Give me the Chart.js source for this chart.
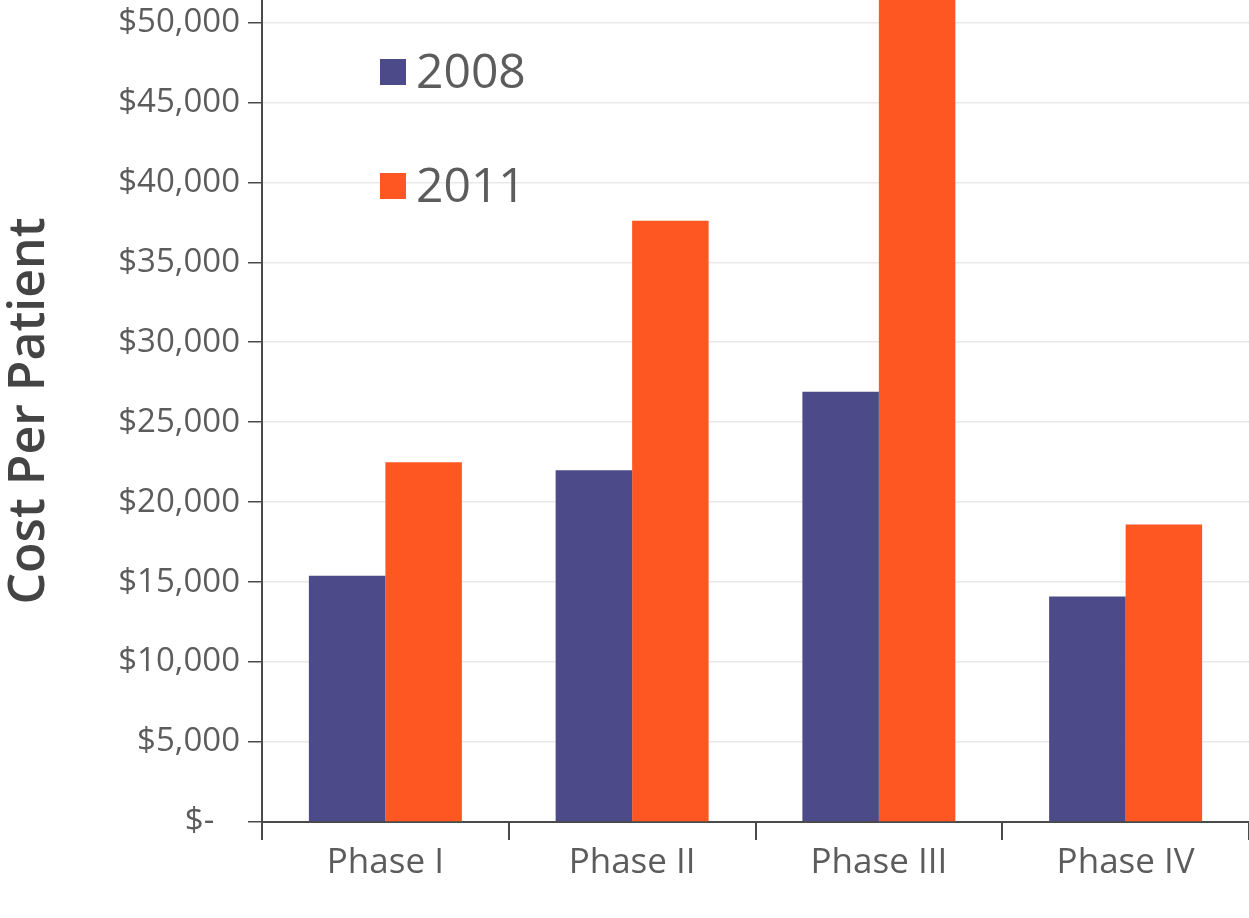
<!DOCTYPE html>
<html>
<head>
<meta charset="utf-8">
<title>Cost Per Patient by Phase</title>
<script src="https://cdn.jsdelivr.net/npm/chart.js@4/dist/chart.umd.min.js"></script>
<style>
    html, body { margin: 0; padding: 0; background: #ffffff; }
    #wrap { width: 1249px; height: 918px; position: relative; }
</style>
</head>
<body>
<div id="wrap"><canvas id="costChart"></canvas></div>
<script>
const phases = ['Phase I', 'Phase II', 'Phase III', 'Phase IV'];
const cost2008 = [15400, 22000, 26900, 14100];
const cost2011 = [22500, 37600, 53000, 18600];
const seriesNames = ['2008', '2011'];
const yTicks = [0, 5000, 10000, 15000, 20000, 25000, 30000, 35000, 40000, 45000, 50000];

const textGrey = '#5c5c5c';
const axisGrey = '#4a4a4a';

// legend drawn inside the plot, stacked vertically near the y axis
const insetLegend = {
    id: 'insetLegend',
    afterDraw(chart) {
        const ctx = chart.ctx;
        const area = chart.chartArea;
        const box = 26;
        ctx.save();
        ctx.font = '48px "Open Sans"';
        ctx.textBaseline = 'middle';
        ctx.textAlign = 'left';
        chart.data.datasets.forEach((ds, i) => {
            const bx = area.left + 118;
            const cy = 72 + i * 114;
            ctx.fillStyle = ds.backgroundColor;
            ctx.fillRect(bx, cy - box / 2, box, box);
            ctx.fillStyle = textGrey;
            ctx.fillText(ds.label, bx + box + 10, cy + 2);
        });
        ctx.restore();
    }
};

new Chart(document.getElementById('costChart'), {
    type: 'bar',
    data: {
        labels: phases,
        datasets: [
            {
                label: seriesNames[0],
                data: cost2008,
                backgroundColor: '#4c4a88',
                barPercentage: 1.0,
                categoryPercentage: 0.62
            },
            {
                label: seriesNames[1],
                data: cost2011,
                backgroundColor: '#ff5722',
                barPercentage: 1.0,
                categoryPercentage: 0.62
            }
        ]
    },
    options: {
        responsive: true,
        maintainAspectRatio: false,
        animation: false,
        layout: { padding: 0 },
        plugins: {
            legend: { display: false },
            tooltip: { enabled: false }
        },
        scales: {
            x: {
                grid: {
                    display: true,
                    drawOnChartArea: false,
                    offset: true,
                    color: axisGrey,
                    lineWidth: 2,
                    tickLength: 18
                },
                border: { display: true, color: axisGrey, width: 2 },
                ticks: {
                    color: textGrey,
                    font: { family: '"Open Sans"', size: 35 },
                    padding: 2,
                    maxRotation: 0
                },
                afterFit: scale => { scale.height = 96; }
            },
            y: {
                min: 0,
                max: 51400,
                ticks: {
                    color: textGrey,
                    font: { family: '"Open Sans"', size: 33 },
                    padding: 8,
                    autoSkip: false,
                    callback: value => value === 0 ? '$-   ' : '$' + value.toLocaleString('en-US')
                },
                // fixed $5,000 steps; the axis runs a little past $50,000 so the tallest bar reaches the top
                afterBuildTicks: scale => {
                    scale.ticks = yTicks.map(v => ({ value: v }));
                },
                grid: {
                    color: '#e9e9e9',
                    lineWidth: 1.5,
                    tickColor: axisGrey,
                    tickLength: 14
                },
                border: { display: true, color: axisGrey, width: 2 },
                title: {
                    display: true,
                    text: 'Cost Per Patient',
                    color: '#444444',
                    font: { family: '"Open Sans"', size: 50, weight: '600' },
                    padding: { top: 0, bottom: 10 }
                },
                afterFit: scale => {
                    scale.width = 262;
                    scale.paddingTop = 0;
                }
            }
        }
    },
    plugins: [insetLegend]
});
</script>
</body>
</html>
